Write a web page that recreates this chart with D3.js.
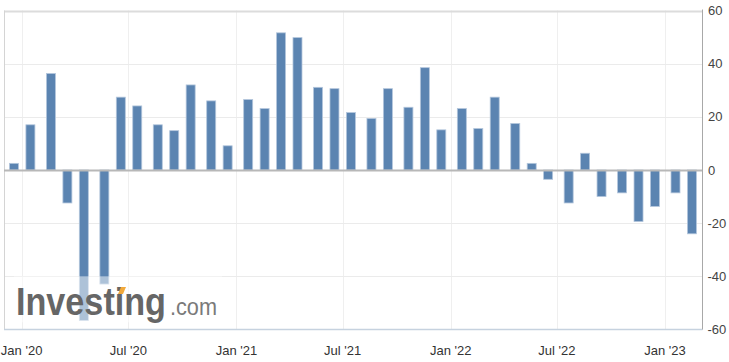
<!DOCTYPE html>
<html>
<head>
<meta charset="utf-8">
<title>Index chart</title>
<script src="https://d3js.org/d3.v7.min.js"></script>
<style>
    html, body {
        margin: 0;
        padding: 0;
        background: #fff;
    }
    svg text {
        font-family: "Liberation Sans", Arial, sans-serif;
    }
</style>
</head>
<body>
<div id="graph"></div>

<script>
    // release dates (3rd Thursday) and readings
    var releaseDates = [
        "2019-12-19",
        "2020-01-16", "2020-02-20", "2020-03-19", "2020-04-16", "2020-05-21", "2020-06-18",
        "2020-07-16", "2020-08-20", "2020-09-17", "2020-10-15", "2020-11-19", "2020-12-17",
        "2021-01-21", "2021-02-18", "2021-03-18", "2021-04-15", "2021-05-20", "2021-06-17",
        "2021-07-15", "2021-08-19", "2021-09-16", "2021-10-21", "2021-11-18", "2021-12-16",
        "2022-01-20", "2022-02-17", "2022-03-17", "2022-04-21", "2022-05-19", "2022-06-16",
        "2022-07-21", "2022-08-18", "2022-09-15", "2022-10-20", "2022-11-17", "2022-12-15",
        "2023-01-19", "2023-02-16"
    ];
    var values = [
        2.5,
        17.0, 36.3, -12.4, -56.6, -42.9, 27.4,
        24.1, 17.0, 14.8, 32.0, 26.0, 9.1,
        26.5, 23.1, 51.6, 49.8, 31.1, 30.6,
        21.6, 19.4, 30.6, 23.6, 38.5, 15.1,
        23.1, 15.6, 27.4, 17.5, 2.5, -3.5,
        -12.4, 6.3, -10.0, -8.6, -19.4, -13.7,
        -8.6, -24.0
    ];

    var tickDates = ["2020-01-01", "2020-07-01", "2021-01-01", "2021-07-01", "2022-01-01", "2022-07-01", "2023-01-01"];
    var tickLabels = ["Jan '20", "Jul '20", "Jan '21", "Jul '21", "Jan '22", "Jul '22", "Jan '23"];
    var yTicks = [-60, -40, -20, 0, 20, 40, 60];

    var parseDate = d3.timeParse("%Y-%m-%d");

    var W = 729, H = 362;
    var plotL = 4, plotR = 702.5, plotT = 10.5, plotB = 329.5;

    var svg = d3.select("#graph")
        .append("svg")
        .attr("width", W)
        .attr("height", H);

    var x = d3.scaleTime()
        .domain([parseDate("2019-12-02"), parseDate("2023-03-06")])
        .range([plotL, plotR]);

    var y = d3.scaleLinear()
        .domain([-60, 60])
        .range([plotB, plotT]);

    //vertical grid
    svg.append("g")
        .selectAll("line")
        .data(tickDates)
        .enter()
        .append("line")
            .attr("x1", function(d) { return Math.round(x(parseDate(d))) + 0.5; })
            .attr("x2", function(d) { return Math.round(x(parseDate(d))) + 0.5; })
            .attr("y1", plotT)
            .attr("y2", plotB)
            .attr("stroke", "#efefef");

    //horizontal grid
    svg.append("g")
        .selectAll("line")
        .data(yTicks.filter(function(d) { return d != 0 && d != -60; }))
        .enter()
        .append("line")
            .attr("x1", plotL)
            .attr("x2", plotR)
            .attr("y1", function(d) { return Math.round(y(d)) + 0.5; })
            .attr("y2", function(d) { return Math.round(y(d)) + 0.5; })
            .attr("stroke", function(d) { return d == 60 ? "#dcdcdc" : "#ebebeb"; })
            .attr("stroke-width", function(d) { return d == 60 ? 2 : 1; });

    //left border
    svg.append("line")
        .attr("x1", plotL + 0.5).attr("x2", plotL + 0.5)
        .attr("y1", plotT).attr("y2", plotB)
        .attr("stroke", "#d4d4d4");

    //bars
    svg.append("g")
        .selectAll("rect")
        .data(values)
        .enter()
        .append("rect")
            .attr("x", function(d, i) { return x(parseDate(releaseDates[i])) - 4.5; })
            .attr("y", function(d) { return y(Math.max(0, d)); })
            .attr("width", 9)
            .attr("height", function(d) { return Math.abs(y(d) - y(0)); })
            .attr("fill", "#5b84b1")
            .attr("stroke", "#b3c6dc")
            .attr("stroke-width", 0.8);

    //zero line
    svg.append("line")
        .attr("x1", plotL).attr("x2", plotR)
        .attr("y1", y(0) + 0.5).attr("y2", y(0) + 0.5)
        .attr("stroke", "#b8b8b8")
        .attr("stroke-width", 2);

    //bottom axis line
    svg.append("line")
        .attr("x1", plotL).attr("x2", plotR)
        .attr("y1", plotB).attr("y2", plotB)
        .attr("stroke", "#c6d2df")
        .attr("stroke-width", 1.5);

    //right axis line
    svg.append("line")
        .attr("x1", plotR).attr("x2", plotR)
        .attr("y1", plotT - 1).attr("y2", plotB)
        .attr("stroke", "#a8a8a8");

    //watermark
    var wm = svg.append("g");
    wm.append("rect")
        .attr("x", 14).attr("y", y(-40))
        .attr("width", 208).attr("height", 46)
        .attr("fill", "#fff")
        .attr("fill-opacity", 0.5);
    wm.append("text")
        .attr("x", 16).attr("y", 315)
        .attr("font-size", 38)
        .attr("font-weight", "bold")
        .attr("fill", "#666")
        .attr("textLength", 150)
        .attr("lengthAdjust", "spacingAndGlyphs")
        .text("Investing");
    wm.append("polygon")
        .attr("points", "118,294 121,287 126,287 123,294")
        .attr("fill", "#f2a93b");
    wm.append("text")
        .attr("x", 170).attr("y", 315)
        .attr("font-size", 24)
        .attr("fill", "#7a7a7a")
        .attr("textLength", 47)
        .attr("lengthAdjust", "spacingAndGlyphs")
        .text(".com");

    //y labels
    svg.append("g")
        .selectAll("text")
        .data(yTicks)
        .enter()
        .append("text")
            .attr("x", function(d) { return d < 0 ? 707.5 : 708; })
            .attr("y", function(d) { return y(d); })
            .attr("dy", "0.35em")
            .attr("font-size", 13)
            .attr("fill", "#444")
            .text(function(d) { return d; });

    //x labels
    svg.append("g")
        .selectAll("text")
        .data(tickDates)
        .enter()
        .append("text")
            .attr("x", function(d) { return x(parseDate(d)); })
            .attr("y", 354.5)
            .attr("text-anchor", "middle")
            .attr("font-size", 13)
            .attr("fill", "#333")
            .text(function(d, i) { return tickLabels[i]; });
</script>
</body>
</html>
